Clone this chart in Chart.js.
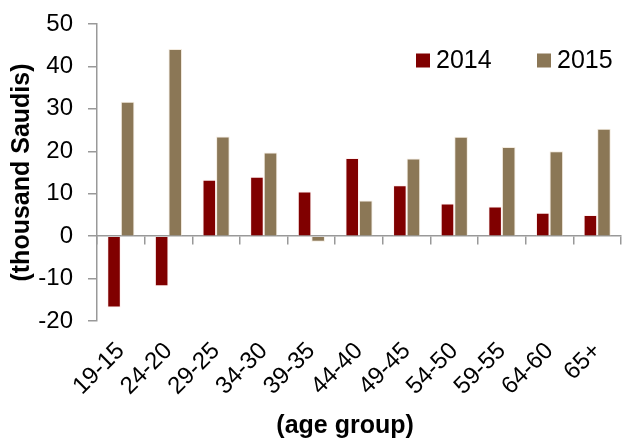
<!DOCTYPE html>
<html><head><meta charset="utf-8">
<script src="https://cdn.jsdelivr.net/npm/chart.js@4/dist/chart.umd.min.js"></script>
<style>html,body{margin:0;padding:0;background:#fff;}#wrap{width:622px;height:441px;}</style>
</head><body><div id="wrap"><canvas id="c" width="622" height="441"></canvas></div>
<script>
const categories = ["19-15","24-20","29-25","34-30","39-35","44-40","49-45","54-50","59-55","64-60","65+"];
const values2014 = [-16.8,-11.8,13.3,14.0,10.5,18.4,12.0,7.7,7.0,5.5,5.0];
const values2015 = [31.7,44.1,23.5,19.7,-1.3,8.4,18.3,23.4,21.0,20.0,25.3];
const seriesNames = ["2014","2015"];
const yTicks = {min:-20, max:50, step:10};
const FONT = "'Liberation Sans', Arial, sans-serif";

const legendPlugin = {
  id:'customLegend',
  afterDraw(chart){
    const ctx = chart.ctx, ca = chart.chartArea;
    ctx.save();
    ctx.font = "25px " + FONT;
    ctx.textBaseline = 'middle';
    const yMid = ca.top + 36.5;
    const starts = [ca.right - 205, ca.right - 84];
    chart.data.datasets.forEach((ds,i)=>{
      const x = starts[i];
      ctx.fillStyle = ds.backgroundColor;
      ctx.fillRect(x, yMid-7, 14, 14);
      ctx.fillStyle = '#000';
      ctx.fillText(ds.label, x+20, yMid+1);
    });
    ctx.restore();
  }
};

function noSidePad(s){ s.paddingLeft = 0; s.paddingRight = 0; s.paddingTop = 0; s.paddingBottom = 0; }

new Chart(document.getElementById('c'), {
  type:'bar',
  data:{
    labels: categories,
    datasets:[
      {label:seriesNames[0], data:values2014, backgroundColor:'#800000', borderColor:'rgba(255,235,235,0.7)', borderWidth:1, xAxisID:'x', categoryPercentage:0.57, barPercentage:1.0},
      {label:seriesNames[1], data:values2015, backgroundColor:'#8b7756', borderColor:'rgba(240,230,215,0.8)', borderWidth:1, xAxisID:'x', categoryPercentage:0.57, barPercentage:1.0}
    ]
  },
  options:{
    responsive:false,
    animation:false,
    layout:{padding:{top:24,right:1,left:0,bottom:0}},
    plugins:{legend:{display:false}, tooltip:{enabled:false}},
    scales:{
      x:{
        type:'category',
        position:'bottom',
        grid:{display:false},
        border:{display:false},
        ticks:{font:{family:FONT,size:24}, color:'#000', maxRotation:45, minRotation:45, padding:8, autoSkip:false},
        title:{display:true, text:'(age group)    ', font:{family:FONT,size:25,weight:'bold'}, color:'#000', padding:{top:0,bottom:0}},
        afterFit(s){ s.height = 120; noSidePad(s); }
      },
      x2:{
        type:'category',
        labels: categories,
        position:{y:0},
        offset:true,
        grid:{display:true, offset:true, drawOnChartArea:false, drawTicks:true, tickLength:8, color:'#999', lineWidth:1.5},
        border:{display:true, color:'#999', width:1.5},
        ticks:{display:false},
        afterFit(s){ noSidePad(s); s.height = 0; }
      },
      y:{
        min:yTicks.min, max:yTicks.max,
        ticks:{stepSize:yTicks.step, font:{family:FONT,size:24}, color:'#000', padding:15},
        grid:{display:true, drawOnChartArea:false, tickLength:9, color:'#999', lineWidth:1.5},
        border:{display:true, color:'#999', width:1.5},
        title:{display:true, text:'(thousand Saudis)', font:{family:FONT,size:25,weight:'bold'}, color:'#000', padding:{top:7,bottom:0}},
        afterFit(s){ s.width = 97; s.paddingTop = 0; s.paddingBottom = 0; }
      }
    }
  },
  plugins:[legendPlugin]
});
</script>
</body></html>
